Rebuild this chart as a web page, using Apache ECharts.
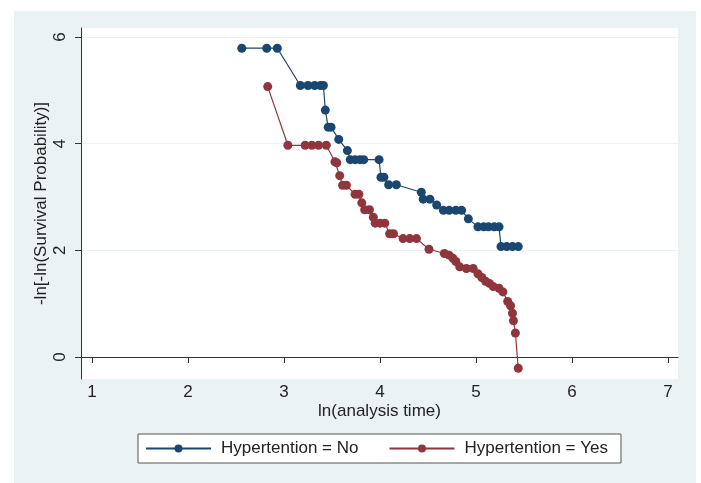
<!DOCTYPE html>
<html>
<head>
<meta charset="utf-8">
<script src="https://cdn.jsdelivr.net/npm/echarts@6/dist/echarts.min.js"></script>
<style>
  html, body { margin: 0; padding: 0; background: #ffffff; }
  #chart { width: 701px; height: 483px; }
</style>
</head>
<body>
<div id="chart"></div>
<script>
// log-log survival estimates: ln(analysis time) against -ln[-ln(S(t))]
const seriesNames = ['Hypertention = No', 'Hypertention = Yes'];

const noX = [2.56, 2.82, 2.93, 3.17, 3.25, 3.32, 3.38, 3.41, 3.43, 3.46, 3.49, 3.57, 3.66,
  3.69, 3.74, 3.79, 3.83, 3.99, 4.01, 4.04, 4.09, 4.17, 4.43, 4.45, 4.52, 4.59, 4.66, 4.72,
  4.79, 4.85, 4.92, 5.02, 5.08, 5.13, 5.19, 5.24, 5.26, 5.32, 5.38, 5.44];
const noY = [5.79, 5.79, 5.79, 5.09, 5.09, 5.09, 5.09, 5.09, 4.63, 4.31, 4.31, 4.08, 3.87,
  3.70, 3.70, 3.70, 3.70, 3.70, 3.37, 3.37, 3.23, 3.23, 3.09, 2.96, 2.96, 2.85, 2.75, 2.75,
  2.75, 2.75, 2.59, 2.44, 2.44, 2.44, 2.44, 2.44, 2.07, 2.07, 2.07, 2.07];

const yesX = [2.83, 3.04, 3.22, 3.29, 3.36, 3.44, 3.53, 3.55, 3.58, 3.61, 3.65, 3.74, 3.78,
  3.81, 3.84, 3.89, 3.93, 3.95, 4.00, 4.05, 4.10, 4.14, 4.24, 4.31, 4.38, 4.51, 4.67, 4.72,
  4.76, 4.79, 4.83, 4.90, 4.97, 5.02, 5.06, 5.10, 5.14, 5.18, 5.24, 5.28, 5.33, 5.36, 5.38,
  5.39, 5.41, 5.44];
const yesY = [5.07, 3.97, 3.97, 3.97, 3.97, 3.97, 3.66, 3.64, 3.40, 3.22, 3.22, 3.05, 3.05,
  2.89, 2.76, 2.76, 2.62, 2.51, 2.51, 2.51, 2.31, 2.31, 2.22, 2.22, 2.22, 2.02, 1.94, 1.91,
  1.85, 1.79, 1.69, 1.66, 1.66, 1.56, 1.49, 1.42, 1.38, 1.32, 1.29, 1.22, 1.04, 0.96, 0.82,
  0.68, 0.45, -0.21];

const xTicks = [1, 2, 3, 4, 5, 6, 7];
const yTicks = [0, 2, 4, 6];

const colors = ['#1a476f', '#90353b'];
const FONT = '"Liberation Sans", Arial, sans-serif';
const FS = 17;

function pairs(xs, ys) { return xs.map((x, i) => [x, ys[i]]); }

const chart = echarts.init(document.getElementById('chart'), null, { renderer: 'canvas' });

chart.setOption({
  backgroundColor: '#ffffff',
  animation: false,
  graphic: [{
    type: 'rect', z: -5, silent: true,
    shape: { x: 14, y: 11, width: 682, height: 472 },
    style: { fill: '#eaf2f3' }
  }],
  grid: {
    left: 81, top: 28, width: 597, height: 351,
    show: true, backgroundColor: '#ffffff', borderWidth: 0
  },
  legend: {
    left: 138, top: 434,
    padding: [6, 13, 6, 7],
    backgroundColor: '#ffffff',
    borderColor: '#555555', borderWidth: 1, borderRadius: 0,
    itemWidth: 65, itemHeight: 10, itemGap: 30,
    textStyle: { fontFamily: FONT, fontSize: FS, color: '#222', padding: [0, 0, 0, 5] },
    data: seriesNames
  },
  xAxis: {
    type: 'value', min: 0.885, max: 7.104,
    name: 'ln(analysis time)', nameLocation: 'middle', nameGap: 24,
    nameMoveOverlap: false,
    nameTextStyle: { fontFamily: FONT, fontSize: FS, color: '#222' },
    axisLine: { show: true, lineStyle: { color: '#333', width: 1 } },
    axisTick: { show: true, length: 6, customValues: xTicks, lineStyle: { color: '#333' } },
    axisLabel: { customValues: xTicks, fontFamily: FONT, fontSize: FS, color: '#222', margin: 5 },
    splitLine: { show: false }
  },
  yAxis: {
    type: 'value', min: -0.4125, max: 6.169,
    name: '-ln[-ln(Survival Probability)]', nameLocation: 'middle', nameGap: 31,
    nameRotate: 90, nameMoveOverlap: false,
    nameTextStyle: { fontFamily: FONT, fontSize: FS, color: '#222' },
    axisLine: { show: true, lineStyle: { color: '#333', width: 1 } },
    axisTick: { show: true, length: 6, customValues: yTicks, lineStyle: { color: '#333' } },
    axisLabel: { customValues: yTicks, rotate: 90, fontFamily: FONT, fontSize: FS, color: '#222', margin: 12 },
    splitLine: { show: true, lineStyle: { color: '#eaf2f3', width: 1 } }
  },
  series: [
    {
      name: seriesNames[0], type: 'line', data: pairs(noX, noY),
      symbol: 'circle', symbolSize: 9, color: colors[0],
      lineStyle: { width: 1.2, color: colors[0] },
      itemStyle: { color: colors[0] }
    },
    {
      name: seriesNames[1], type: 'line', data: pairs(yesX, yesY),
      symbol: 'circle', symbolSize: 9, color: colors[1],
      lineStyle: { width: 1.2, color: colors[1] },
      itemStyle: { color: colors[1] }
    }
  ]
});
</script>
</body>
</html>
